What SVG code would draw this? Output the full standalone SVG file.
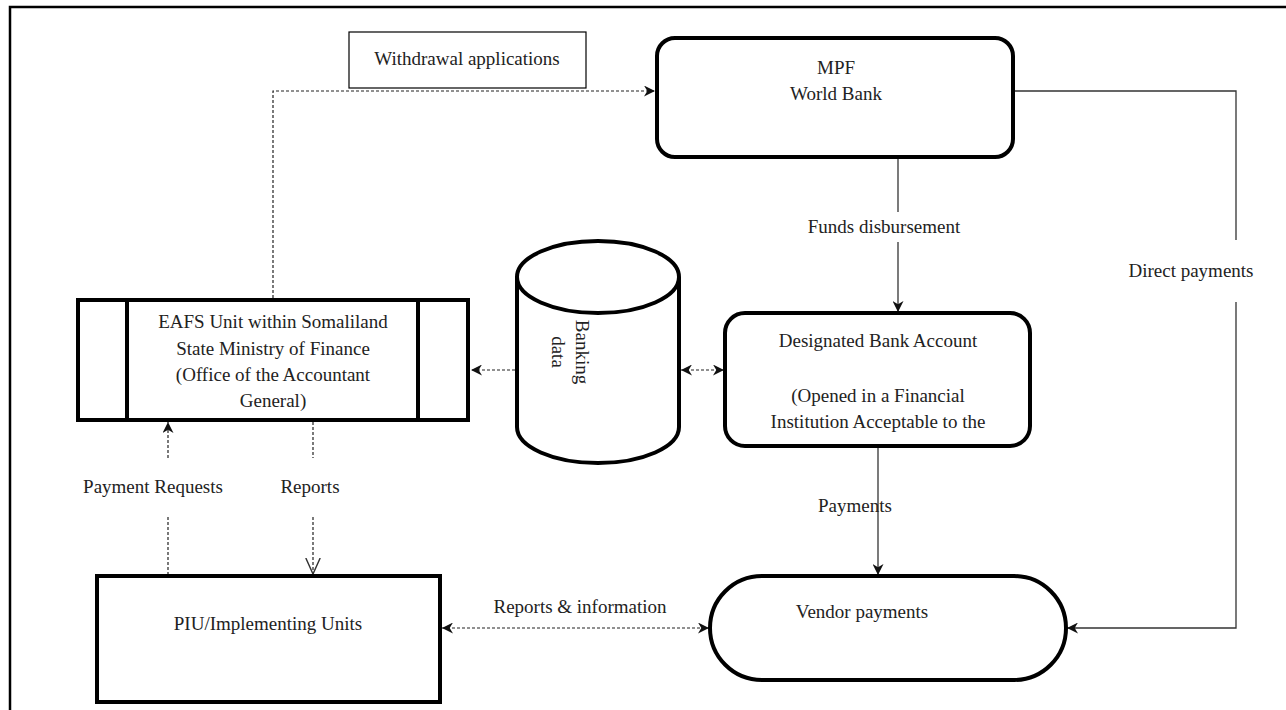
<svg xmlns="http://www.w3.org/2000/svg" width="1286" height="710" viewBox="0 0 1286 710">
<style>
  text { font-family: "Liberation Serif", "Times New Roman", serif; font-size: 19px; fill: #222; text-anchor: middle; }
  .node { fill: #fff; stroke: #000; stroke-width: 4; }
  .thin { fill: #fff; stroke: #000; stroke-width: 1.2; }
  .solid { fill: none; stroke: #333; stroke-width: 1.3; }
  .dash { fill: none; stroke: #222; stroke-width: 1.2; stroke-dasharray: 3 2; }
</style>
<defs>
  <marker id="arr" viewBox="0 0 10 10" refX="10" refY="5" markerWidth="11" markerHeight="11" markerUnits="userSpaceOnUse" orient="auto-start-reverse">
    <path d="M0,0 L10,5 L0,10 L3,5 z" fill="#111"/>
  </marker>
  <marker id="open" viewBox="0 0 10 10" refX="10" refY="5" markerWidth="16" markerHeight="16" markerUnits="userSpaceOnUse" orient="auto">
    <path d="M0,0.5 L10,5 L0,9.5" fill="none" stroke="#333" stroke-width="0.9"/>
  </marker>
</defs>
<rect width="1286" height="710" fill="#fff"/>
<path d="M10,710 V7 H1286" fill="none" stroke="#000" stroke-width="2.5"/>

<g id="connectors">
  <path class="dash" d="M273,298 V91 H655" marker-end="url(#arr)"/>
  <path class="dash" d="M515,370 H471" marker-end="url(#arr)"/>
  <path class="dash" d="M681,370 H724" marker-start="url(#arr)" marker-end="url(#arr)"/>
  <path class="solid" d="M898,157 V212"/>
  <path class="solid" d="M898,242 V312" marker-end="url(#arr)"/>
  <path class="solid" d="M878,446 V575" marker-end="url(#arr)"/>
  <path class="solid" d="M1013,91 H1236 V240"/>
  <path class="solid" d="M1236,302 V628 H1067" marker-end="url(#arr)"/>
  <path class="dash" d="M168,575 V517"/>
  <path class="dash" d="M168,458 V422" marker-end="url(#arr)"/>
  <path class="dash" d="M313,422 V458"/>
  <path class="dash" d="M313,517 V574" marker-end="url(#open)"/>
  <path class="dash" d="M442,628 H709" marker-start="url(#arr)" marker-end="url(#arr)"/>
  <text x="884" y="233">Funds disbursement</text>
  <text x="1191" y="277">Direct payments</text>
  <text x="855" y="512">Payments</text>
  <text x="153" y="493">Payment Requests</text>
  <text x="310" y="493">Reports</text>
  <text x="580" y="613">Reports &amp; information</text>
</g>

<g id="withdrawal-label">
  <rect class="thin" x="349" y="32" width="237" height="56"/>
  <text x="467" y="65">Withdrawal applications</text>
</g>

<g id="mpf">
  <rect class="node" x="657" y="38" width="356" height="119" rx="18"/>
  <text x="836" y="74">MPF</text>
  <text x="836" y="100">World Bank</text>
</g>

<g id="eafs">
  <rect class="node" x="78" y="300" width="390" height="120"/>
  <line x1="127" y1="300" x2="127" y2="420" stroke="#000" stroke-width="4"/>
  <line x1="418" y1="300" x2="418" y2="420" stroke="#000" stroke-width="4"/>
  <text x="273" y="328">EAFS Unit within Somaliland</text>
  <text x="273" y="355">State Ministry of Finance</text>
  <text x="273" y="381">(Office of the Accountant</text>
  <text x="273" y="407">General)</text>
</g>

<g id="banking-data">
  <path class="node" d="M517,277 V427 A81,36 0 0 0 679,427 V277"/>
  <ellipse class="node" cx="598" cy="277" rx="81" ry="36"/>
  <text transform="translate(576,352) rotate(90)">Banking</text>
  <text transform="translate(552,352) rotate(90)">data</text>
</g>

<g id="designated-account">
  <rect class="node" x="725" y="313" width="305" height="133" rx="20"/>
  <text x="878" y="347">Designated Bank Account</text>
  <text x="878" y="402">(Opened in a Financial</text>
  <text x="878" y="428">Institution Acceptable to the</text>
</g>

<g id="piu">
  <rect class="node" x="97" y="576" width="343" height="126"/>
  <text x="268" y="630">PIU/Implementing Units</text>
</g>

<g id="vendor">
  <rect class="node" x="710" y="576" width="356" height="104" rx="52"/>
  <text x="862" y="618">Vendor payments</text>
</g>
</svg>
